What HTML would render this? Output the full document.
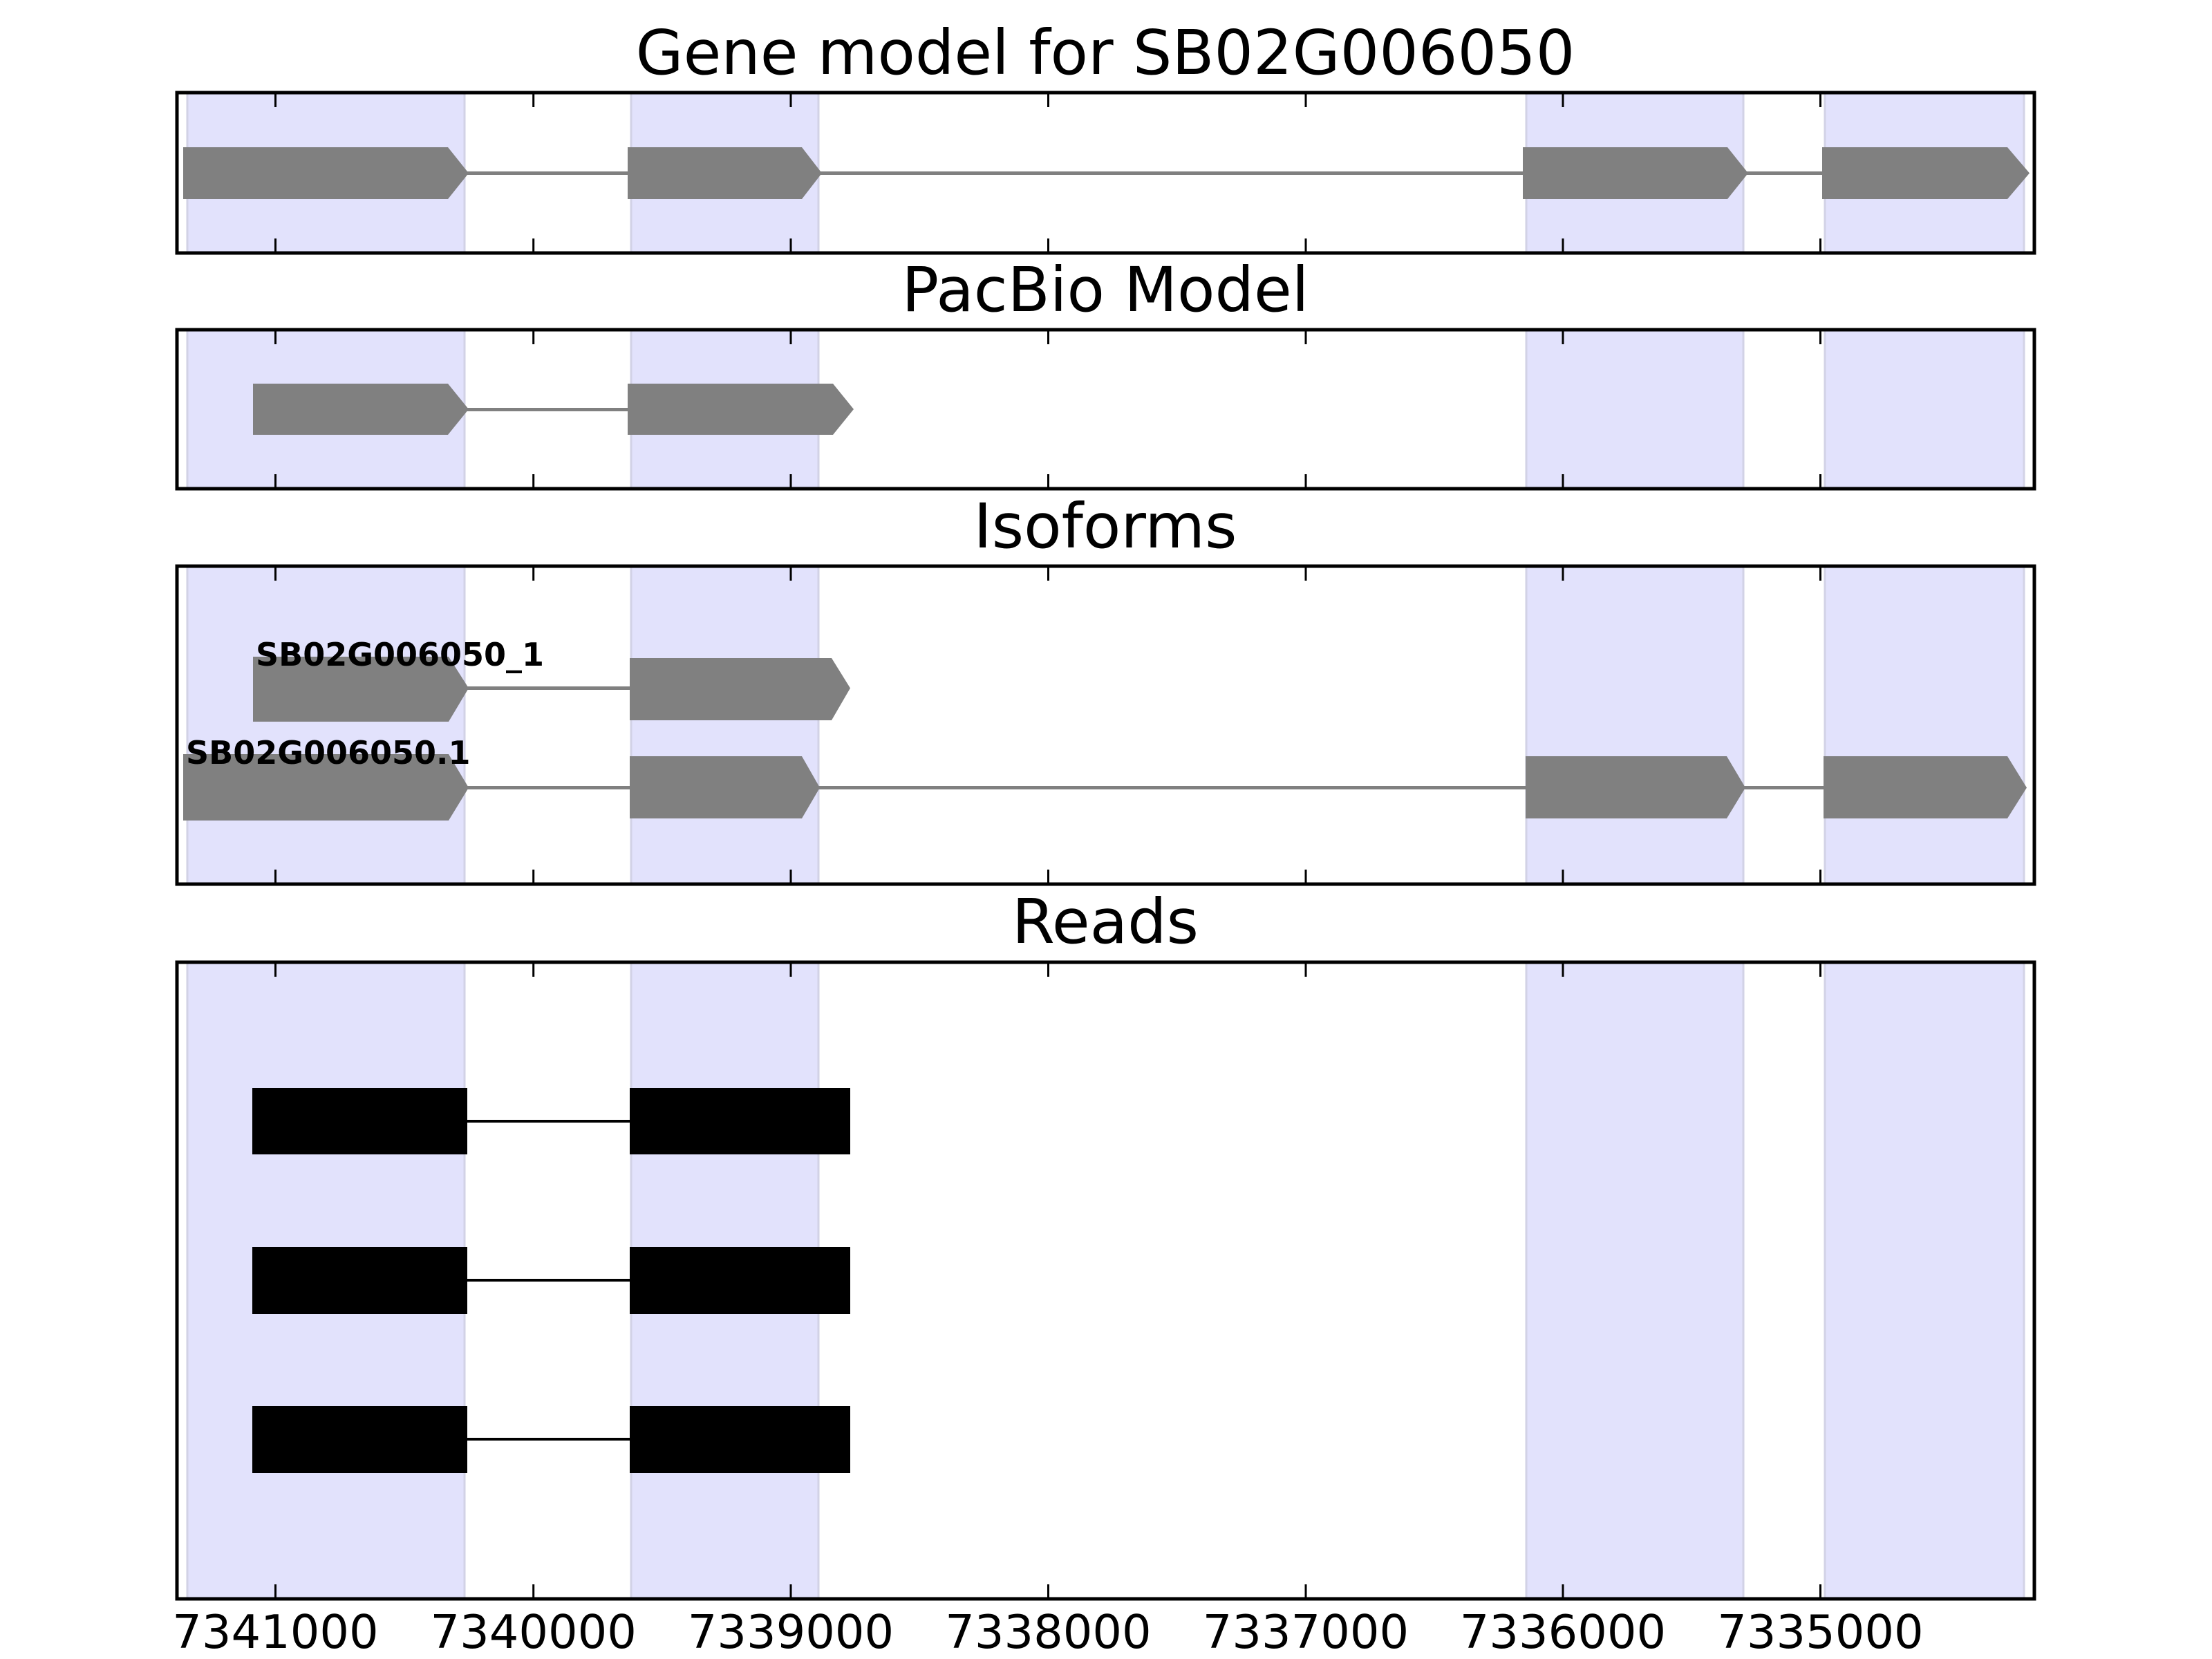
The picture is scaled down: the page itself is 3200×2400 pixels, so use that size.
<!DOCTYPE html>
<html><head><style>html,body{margin:0;padding:0;background:#fff}svg{display:block}</style></head>
<body>
<svg width="3200" height="2400" viewBox="0 0 3200 2400" xmlns="http://www.w3.org/2000/svg" font-family="DejaVu Sans, Liberation Sans, sans-serif">
<rect width="3200" height="2400" fill="#fff"/>
<g fill="#e2e2fc" stroke="#d2d2e6" stroke-width="3">
<rect x="271" y="134" width="401" height="232"/><rect x="913" y="134" width="271" height="232"/><rect x="2208" y="134" width="314" height="232"/><rect x="2640" y="134" width="288" height="232"/>
<rect x="271" y="477" width="401" height="230"/><rect x="913" y="477" width="271" height="230"/><rect x="2208" y="477" width="314" height="230"/><rect x="2640" y="477" width="288" height="230"/>
<rect x="271" y="819" width="401" height="460"/><rect x="913" y="819" width="271" height="460"/><rect x="2208" y="819" width="314" height="460"/><rect x="2640" y="819" width="288" height="460"/>
<rect x="271" y="1392" width="401" height="921"/><rect x="913" y="1392" width="271" height="921"/><rect x="2208" y="1392" width="314" height="921"/><rect x="2640" y="1392" width="288" height="921"/>
</g>
<g fill="#808080">
<rect x="670" y="248" width="2260" height="5"/>
<polygon points="265,213 648,213 678,250.5 648,288 265,288"/>
<polygon points="908,213 1160,213 1189,250.5 1160,288 908,288"/>
<polygon points="2203,213 2499,213 2529,250.5 2499,288 2203,288"/>
<polygon points="2636,213 2904,213 2936,250.5 2904,288 2636,288"/>
</g>
<g fill="#808080">
<rect x="670" y="590" width="250" height="5"/>
<polygon points="366,555 648,555 678,592 648,629 366,629"/>
<polygon points="908,555 1205,555 1235,592 1205,629 908,629"/>
</g>
<g fill="#808080">
<rect x="670" y="993" width="250" height="5"/>
<polygon points="366,950 649,950 678,995.5 649,1044 366,1044"/>
<polygon points="911,952 1203,952 1230,995.5 1203,1042 911,1042"/>
<rect x="670" y="1137" width="2260" height="5"/>
<polygon points="265,1091 649,1091 678,1139.5 649,1187 265,1187"/>
<polygon points="911,1094 1160,1094 1186,1139.5 1160,1184 911,1184"/>
<polygon points="2207,1094 2498,1094 2525,1139.5 2498,1184 2207,1184"/>
<polygon points="2638,1094 2904,1094 2932,1139.5 2904,1184 2638,1184"/>
</g>
<g font-weight="bold" font-size="46" fill="#000">
<text x="370" y="963">SB02G006050_1</text>
<text x="269" y="1105">SB02G006050.1</text>
</g>
<g fill="#000">
<rect x="670" y="1620" width="250" height="4"/><rect x="365" y="1574" width="311" height="96"/><rect x="911" y="1574" width="319" height="96"/>
<rect x="670" y="1850" width="250" height="4"/><rect x="365" y="1804" width="311" height="97"/><rect x="911" y="1804" width="319" height="97"/>
<rect x="670" y="2080" width="250" height="4"/><rect x="365" y="2034" width="311" height="97"/><rect x="911" y="2034" width="319" height="97"/>
</g>
<g fill="none" stroke="#000" stroke-width="5">
<rect x="256" y="134" width="2687" height="232"/>
<rect x="256" y="477" width="2687" height="230"/>
<rect x="256" y="819" width="2687" height="460"/>
<rect x="256" y="1392" width="2687" height="921"/>
</g>
<g stroke="#000" stroke-width="3">
<path d="M398.5 134v21M771.7 134v21M1144 134v21M1516.5 134v21M1889 134v21M2261 134v21M2633.5 134v21
M398.5 366v-21M771.7 366v-21M1144 366v-21M1516.5 366v-21M1889 366v-21M2261 366v-21M2633.5 366v-21
M398.5 477v21M771.7 477v21M1144 477v21M1516.5 477v21M1889 477v21M2261 477v21M2633.5 477v21
M398.5 707v-21M771.7 707v-21M1144 707v-21M1516.5 707v-21M1889 707v-21M2261 707v-21M2633.5 707v-21
M398.5 819v21M771.7 819v21M1144 819v21M1516.5 819v21M1889 819v21M2261 819v21M2633.5 819v21
M398.5 1279v-21M771.7 1279v-21M1144 1279v-21M1516.5 1279v-21M1889 1279v-21M2261 1279v-21M2633.5 1279v-21
M398.5 1392v21M771.7 1392v21M1144 1392v21M1516.5 1392v21M1889 1392v21M2261 1392v21M2633.5 1392v21
M398.5 2313v-21M771.7 2313v-21M1144 2313v-21M1516.5 2313v-21M1889 2313v-21M2261 2313v-21M2633.5 2313v-21"/>
</g>
<g font-size="89" text-anchor="middle" fill="#000">
<text x="1599" y="107">Gene model for SB02G006050</text>
<text x="1599" y="450">PacBio Model</text>
<text x="1599" y="792">Isoforms</text>
<text x="1599" y="1364">Reads</text>
</g>
<g font-size="67" text-anchor="middle" fill="#000">
<text x="398.5" y="2384">7341000</text>
<text x="771.7" y="2384">7340000</text>
<text x="1144" y="2384">7339000</text>
<text x="1516.5" y="2384">7338000</text>
<text x="1889" y="2384">7337000</text>
<text x="2261" y="2384">7336000</text>
<text x="2633.5" y="2384">7335000</text>
</g>
</svg>
</body></html>
